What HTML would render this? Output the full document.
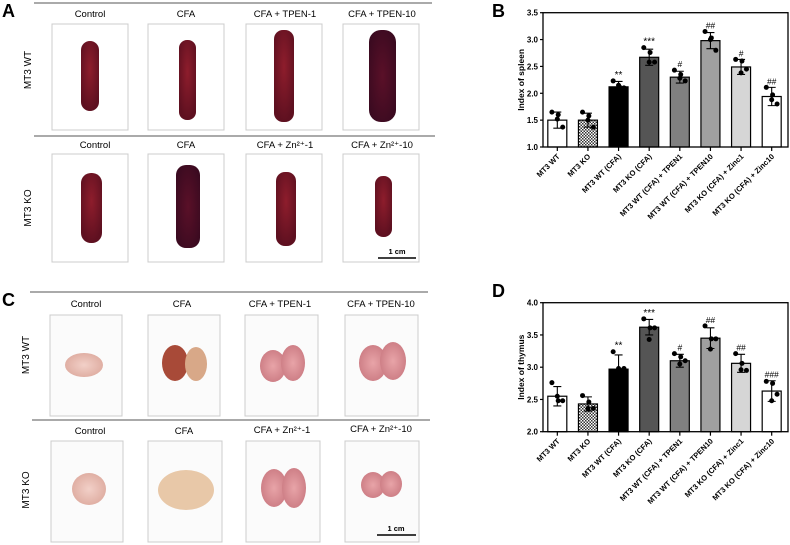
<!DOCTYPE html>
<html><head><meta charset="utf-8"><style>
html,body{margin:0;padding:0;background:#fff;}
svg{display:block;font-family:"Liberation Sans",Arial,sans-serif;}
</style></head><body>
<svg id="fig" width="790" height="545" viewBox="0 0 790 545" xmlns="http://www.w3.org/2000/svg">
<defs>
<pattern id="chk" width="3" height="3" patternUnits="userSpaceOnUse"><rect width="3" height="3" fill="#fff"/><rect width="1.5" height="1.5" fill="#333"/><rect x="1.5" y="1.5" width="1.5" height="1.5" fill="#333"/></pattern>
<radialGradient id="spl" cx="0.5" cy="0.4" r="0.6"><stop offset="0" stop-color="#8e1d2c"/><stop offset="1" stop-color="#5e1020"/></radialGradient>
<radialGradient id="spl2" cx="0.5" cy="0.5" r="0.6"><stop offset="0" stop-color="#5a1028"/><stop offset="1" stop-color="#3a0a20"/></radialGradient>
<radialGradient id="thy" cx="0.5" cy="0.5" r="0.6"><stop offset="0" stop-color="#f2d0c8"/><stop offset="1" stop-color="#dca89c"/></radialGradient>
<radialGradient id="thy2" cx="0.5" cy="0.5" r="0.6"><stop offset="0" stop-color="#e8a4a8"/><stop offset="1" stop-color="#c97880"/></radialGradient>
</defs>

<!-- Panel A -->
<text x="2" y="17" font-size="18" font-weight="bold">A</text>
<line x1="34" y1="3" x2="432" y2="3" stroke="#555" stroke-width="1"/>
<line x1="34" y1="136" x2="435" y2="136" stroke="#555" stroke-width="1"/>
<g font-size="9.5" text-anchor="middle">
<text x="90" y="17">Control</text><text x="186" y="17">CFA</text><text x="285" y="17">CFA + TPEN-1</text><text x="382" y="17">CFA + TPEN-10</text>
<text x="95" y="148">Control</text><text x="186" y="148">CFA</text><text x="285" y="148">CFA + Zn²⁺-1</text><text x="382" y="148">CFA + Zn²⁺-10</text>
</g>
<text transform="translate(31,70) rotate(-90)" font-size="10" text-anchor="middle">MT3 WT</text>
<text transform="translate(31,208) rotate(-90)" font-size="10" text-anchor="middle">MT3 KO</text>
<g fill="#fff" stroke="#ccc" stroke-width="1">
<rect x="52" y="24" width="76" height="106"/><rect x="148" y="24" width="76" height="106"/><rect x="246" y="24" width="76" height="106"/><rect x="343" y="24" width="76" height="106"/>
<rect x="52" y="154" width="76" height="108"/><rect x="148" y="154" width="76" height="108"/><rect x="246" y="154" width="76" height="108"/><rect x="343" y="154" width="76" height="108"/>
</g>
<g>
<rect x="81" y="41" width="18" height="70" rx="9" fill="url(#spl)"/>
<rect x="179" y="40" width="17" height="80" rx="8" fill="url(#spl)"/>
<rect x="274" y="30" width="20" height="92" rx="9" fill="url(#spl)"/>
<rect x="369" y="30" width="27" height="92" rx="12" fill="url(#spl2)"/>
<rect x="81" y="173" width="21" height="70" rx="10" fill="url(#spl)"/>
<rect x="176" y="165" width="24" height="83" rx="10" fill="url(#spl2)"/>
<rect x="276" y="172" width="20" height="74" rx="9" fill="url(#spl)"/>
<rect x="375" y="176" width="17" height="61" rx="8" fill="url(#spl)"/>
</g>
<line x1="378" y1="258" x2="416" y2="258" stroke="#000" stroke-width="1.5"/>
<text x="397" y="254" font-size="7.5" font-weight="bold" text-anchor="middle">1 cm</text>

<!-- Panel C -->
<text x="2" y="306" font-size="18" font-weight="bold">C</text>
<line x1="30" y1="292" x2="428" y2="292" stroke="#555" stroke-width="1"/>
<line x1="32" y1="420" x2="430" y2="420" stroke="#555" stroke-width="1"/>
<g font-size="9.5" text-anchor="middle">
<text x="86" y="307">Control</text><text x="182" y="307">CFA</text><text x="280" y="307">CFA + TPEN-1</text><text x="381" y="307">CFA + TPEN-10</text>
<text x="90" y="434">Control</text><text x="184" y="434">CFA</text><text x="282" y="433">CFA + Zn²⁺-1</text><text x="381" y="432">CFA + Zn²⁺-10</text>
</g>
<text transform="translate(29,355) rotate(-90)" font-size="10" text-anchor="middle">MT3 WT</text>
<text transform="translate(29,490) rotate(-90)" font-size="10" text-anchor="middle">MT3 KO</text>
<g fill="#fbfbfb" stroke="#ccc" stroke-width="1">
<rect x="50" y="315" width="72" height="101"/><rect x="148" y="315" width="72" height="101"/><rect x="245" y="315" width="73" height="101"/><rect x="345" y="315" width="73" height="101"/>
<rect x="51" y="441" width="72" height="101"/><rect x="148" y="441" width="74" height="101"/><rect x="246" y="441" width="74" height="101"/><rect x="345" y="441" width="74" height="101"/>
</g>
<g>
<ellipse cx="84" cy="365" rx="19" ry="12" fill="url(#thy)"/>
<ellipse cx="175" cy="363" rx="13" ry="18" fill="#a84a38"/><ellipse cx="196" cy="364" rx="11" ry="17" fill="#d8a888"/>
<ellipse cx="273" cy="366" rx="13" ry="16" fill="url(#thy2)"/><ellipse cx="293" cy="363" rx="12" ry="18" fill="url(#thy2)"/>
<ellipse cx="373" cy="363" rx="14" ry="18" fill="url(#thy2)"/><ellipse cx="393" cy="361" rx="13" ry="19" fill="url(#thy2)"/>
<ellipse cx="89" cy="489" rx="17" ry="16" fill="url(#thy)"/>
<ellipse cx="186" cy="490" rx="28" ry="20" fill="#e8c8a8"/>
<ellipse cx="274" cy="488" rx="13" ry="19" fill="url(#thy2)"/><ellipse cx="294" cy="488" rx="12" ry="20" fill="url(#thy2)"/>
<ellipse cx="373" cy="485" rx="12" ry="13" fill="url(#thy2)"/><ellipse cx="391" cy="484" rx="11" ry="13" fill="url(#thy2)"/>
</g>
<line x1="377" y1="535" x2="416" y2="535" stroke="#000" stroke-width="1.5"/>
<text x="396" y="531" font-size="7.5" font-weight="bold" text-anchor="middle">1 cm</text>

<text x="492" y="17" font-size="18" font-weight="bold">B</text>
<text x="492" y="297" font-size="18" font-weight="bold">D</text>
<g id="chartB"></g>
<g id="chartD"></g>
</svg>
<script>
const categories = ["MT3 WT","MT3 KO","MT3 WT (CFA)","MT3 KO (CFA)","MT3 WT (CFA) + TPEN1","MT3 WT (CFA) + TPEN10","MT3 KO (CFA) + Zinc1","MT3 KO (CFA) + Zinc10"];
const spleenMeans = [1.50,1.50,2.12,2.67,2.30,2.98,2.49,1.94];
const spleenErr = [0.15,0.13,0.10,0.15,0.11,0.15,0.14,0.17];
const spleenPoints = [[1.65,1.60,1.37,1.52],[1.65,1.58,1.37,1.50],[2.23,2.12,2.10,2.15],[2.85,2.76,2.58,2.58],[2.43,2.35,2.23,2.28],[3.15,3.03,2.80,3.00],[2.63,2.60,2.45,2.38],[2.11,1.97,1.80,1.88]];
const spleenSig = ["","","**","***","#","##","#","##"];
const spleenTicks = [1.0,1.5,2.0,2.5,3.0,3.5];
const thymusMeans = [2.55,2.43,2.97,3.62,3.10,3.45,3.06,2.63];
const thymusErr = [0.15,0.11,0.22,0.12,0.10,0.16,0.14,0.16];
const thymusPoints = [[2.76,2.48,2.48,2.55],[2.56,2.46,2.36,2.36],[3.24,2.96,2.98,2.98],[3.75,3.61,3.61,3.43],[3.21,3.16,3.10,3.05],[3.64,3.44,3.44,3.28],[3.21,3.06,2.95,2.96],[2.78,2.75,2.58,2.48]];
const thymusSig = ["","","**","***","#","##","##","###"];
const thymusTicks = [2.0,2.5,3.0,3.5,4.0];
const fills = ["#fff","url(#chk)","#000","#555","#808080","#a0a0a0","#d6d6d6","#fff"];
const NS = "http://www.w3.org/2000/svg";
function mk(parent, tag, attrs){const e=document.createElementNS(NS,tag);for(const k in attrs)e.setAttribute(k,attrs[k]);parent.appendChild(e);return e;}
function drawChart(g, means, errs, pts, sig, ticks, title, top, bottom){
  const left=543,right=788,ymin=ticks[0],ymax=ticks[ticks.length-1];
  const y=v=>bottom-(v-ymin)/(ymax-ymin)*(bottom-top);
  const step=(right-left)/categories.length;
  const x=i=>left+step*(i+0.5)-1;
  ticks.forEach(t=>{
    const tl=mk(g,'line',{x1:left-3,x2:left,y1:y(t),y2:y(t),stroke:'#000','stroke-width':1.2});
    
    
    const tx=mk(g,'text',{x:left-5,y:y(t)+3,'font-size':8,'font-weight':'bold','text-anchor':'end'});
    tx.textContent=t.toFixed(1);
    
    
  });
  const yt=mk(g,'text',{transform:`translate(524,${(top+bottom)/2}) rotate(-90)`,'font-size':8.5,'font-weight':'bold','text-anchor':'middle'});
  yt.textContent=title;
  
  
  means.forEach((m,i)=>{
    const bw=19,cx=x(i);
    const b=mk(g,'rect',{x:cx-bw/2,y:y(m),width:bw,height:bottom-y(m),fill:fills[i],stroke:'#000','stroke-width':1.2});
    
    
    const e1=y(m+errs[i]),e2=y(m-errs[i]);
    const eb=mk(g,'path',{d:`M${cx},${e1}V${e2}M${cx-4},${e1}H${cx+4}M${cx-4},${e2}H${cx+4}`,stroke:'#000','stroke-width':1.1,fill:'none'});
    
    
    pts[i].forEach((p,j)=>{
      const d=mk(g,'circle',{cx:cx+[-6,1,6,0][j]*0.9,cy:y(p),r:2.5,fill:'#000'});
      
      
    });
    if(sig[i]){
      const hi=Math.max(m+errs[i],...pts[i]);
      const s=mk(g,'text',{x:cx,y:y(hi)-3,'font-size':sig[i][0]=='*'?10:8.5,'text-anchor':'middle'});
      s.textContent=sig[i];
      
      
    }
    const tk=mk(g,'line',{x1:cx,x2:cx,y1:bottom,y2:bottom+4,stroke:'#000','stroke-width':1.2});
    
    
    const lb=mk(g,'text',{transform:`translate(${cx+3},${bottom+10}) rotate(-45)`,'font-size':7.6,'font-weight':'bold','text-anchor':'end'});
    lb.textContent=categories[i];
    
    
  });
  const ax=mk(g,'rect',{x:left,y:top,width:right-left,height:bottom-top,fill:'none',stroke:'#000','stroke-width':1.3});
  
  
}
drawChart(document.getElementById('chartB'),spleenMeans,spleenErr,spleenPoints,spleenSig,spleenTicks,'Index of spleen',12.7,147);
drawChart(document.getElementById('chartD'),thymusMeans,thymusErr,thymusPoints,thymusSig,thymusTicks,'Index of thymus',302.7,431.7);
</script>
</body></html>
